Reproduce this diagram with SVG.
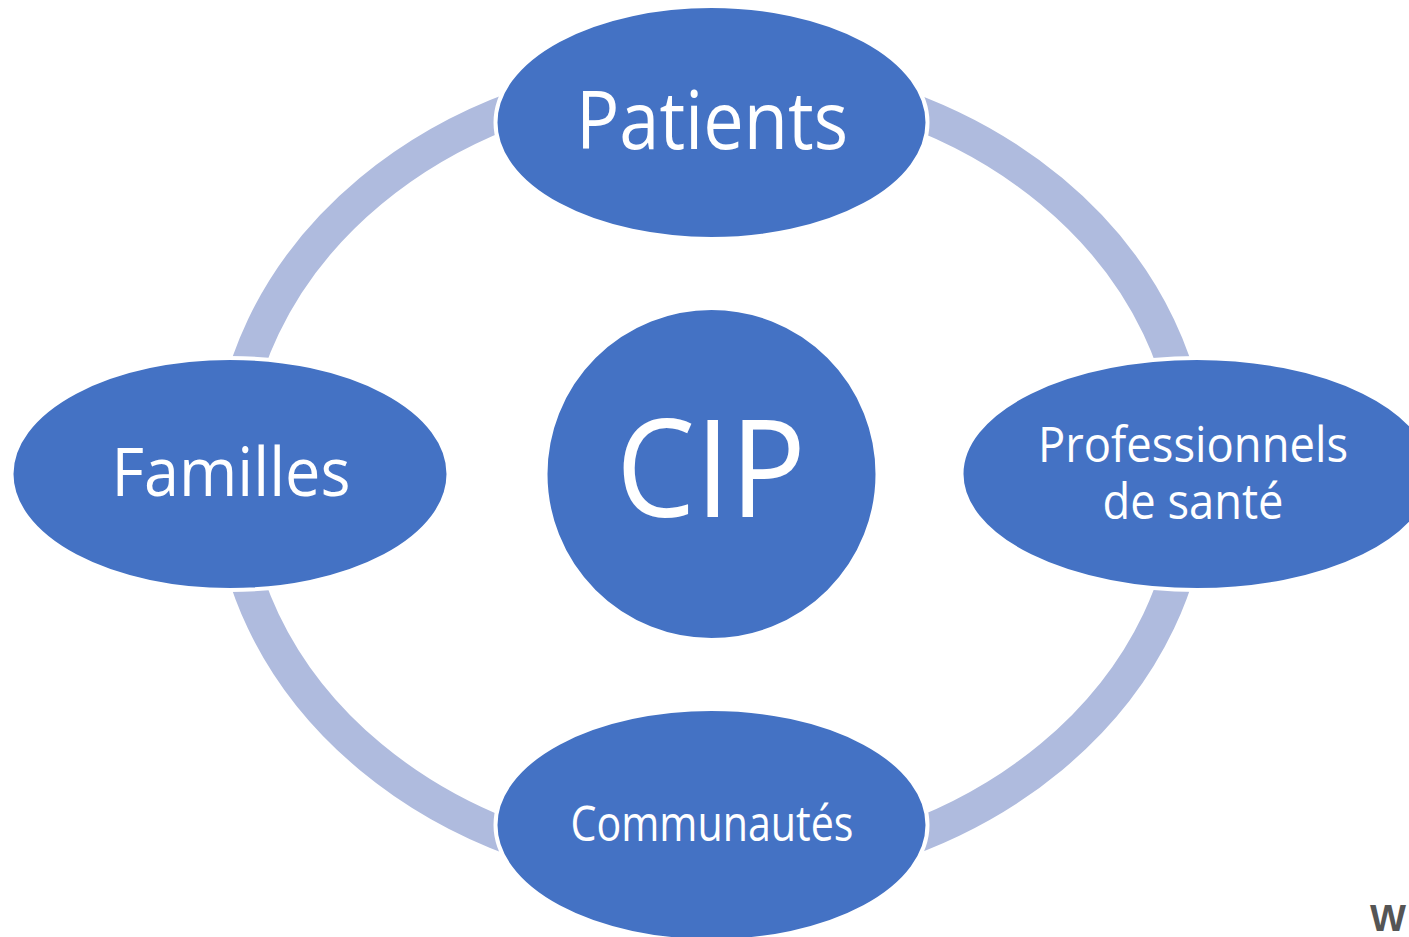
<svg xmlns="http://www.w3.org/2000/svg" width="1409" height="937" viewBox="0 0 1409 937">
<style>
.node{fill:#4472C4;stroke:#FFFFFF;stroke-width:4}
.lbl{font-family:"Open Sans","Noto Sans",sans-serif;fill:#FFFFFF;text-anchor:middle}
.ring{fill:none;stroke:#AFBBDE;stroke-width:34}
</style>
<rect width="1409" height="937" fill="#FFFFFF"/>
<g id="connectors">
<ellipse class="ring" cx="711" cy="474" rx="481.5" ry="400"/>
</g>
<g id="node-cip">
<circle class="node" cx="711.5" cy="474" r="166"/>
<text class="lbl" x="711" y="517" font-size="136" textLength="190" lengthAdjust="spacingAndGlyphs">CIP</text>
</g>
<g id="node-patients">
<ellipse class="node" cx="711.5" cy="122.5" rx="216" ry="116.5"/>
<text class="lbl" x="712" y="149" font-size="80" textLength="272" lengthAdjust="spacingAndGlyphs">Patients</text>
</g>
<g id="node-familles">
<ellipse class="node" cx="230" cy="474" rx="218.5" ry="116"/>
<text class="lbl" x="231" y="496" font-size="67" textLength="239" lengthAdjust="spacingAndGlyphs">Familles</text>
</g>
<g id="node-professionnels">
<ellipse class="node" cx="1197" cy="474" rx="235.5" ry="116"/>
<text class="lbl" x="1193" y="462" font-size="50" textLength="310" lengthAdjust="spacingAndGlyphs">Professionnels</text>
<text class="lbl" x="1193" y="519" font-size="50" textLength="181" lengthAdjust="spacingAndGlyphs">de santé</text>
</g>
<g id="node-communautes">
<ellipse class="node" cx="711.5" cy="825" rx="216" ry="116"/>
<text class="lbl" x="712" y="841" font-size="50" textLength="283" lengthAdjust="spacingAndGlyphs">Communautés</text>
</g>
<text x="1388" y="931" font-family="'Liberation Sans',sans-serif" font-weight="bold" font-size="36" fill="#555555" text-anchor="middle" textLength="36" lengthAdjust="spacingAndGlyphs">W</text>
</svg>
